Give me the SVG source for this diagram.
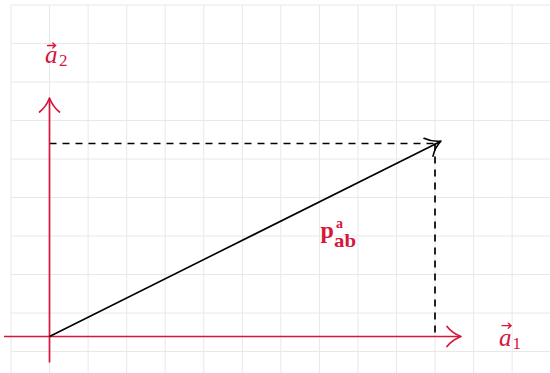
<svg xmlns="http://www.w3.org/2000/svg" width="550" height="373" viewBox="0 0 550 373">
<style>
.grid{stroke:#e8e8e8;stroke-width:1;fill:none}
.axis{stroke:#d6163d;stroke-width:1.7;fill:none}
.head{stroke-linecap:round;stroke-linejoin:round;fill:none}
.vec{stroke:#000;stroke-width:1.6;fill:none}
.dash{stroke:#000;stroke-width:1.7;stroke-dasharray:7 6;fill:none}
.lbl{fill:#d6163d;font-family:"Liberation Serif","DejaVu Serif",serif}
.acc{stroke:#d6163d;stroke-width:1.3;fill:none;stroke-linecap:round}
</style>
<rect width="550" height="373" fill="#fff"/>
<g id="grid" class="grid">
<path d="M11 5V373M49.55 5V373M88.1 5V373M126.65 5V373M165.2 5V373M203.75 5V373M242.3 5V373M280.85 5V373M319.4 5V373M357.95 5V373M396.5 5V373M435.05 5V373M473.6 5V373M512.15 5V373"/>
<path d="M11 5H550M11 43.5H550M11 82H550M11 120.5H550M11 159H550M11 197.5H550M11 236H550M11 274.5H550M11 313H550M11 351.5H550"/>
</g>
<g id="connectors">
<path class="dash" d="M49.5 143.5H435"/>
<path class="dash" d="M435 143.5V336.5"/>
<g id="axis-a1">
<path class="axis" d="M4 336.5H460"/>
<path class="axis head" d="M447 326.5Q452 333 461 336.5Q452 340 447 346.5"/>
</g>
<g id="axis-a2">
<path class="axis" d="M49.5 362.5V99"/>
<path class="axis head" d="M39.5 112Q46 107 49.5 98Q53 107 59.5 112"/>
</g>
<g id="vector-p">
<path class="vec" d="M49.5 336.5L440 141.7"/>
<path class="vec head" d="M424 138.3Q431.4 141.9 441 141Q434.5 148.2 433 156.2"/>
</g>
</g>
<g id="label-a2">
<text class="lbl" x="45" y="63.3" font-size="25" font-style="italic">a</text>
<text class="lbl" x="59" y="66" font-size="17">2</text>
<path class="acc" d="M47.5 45.5H55.5M52.8 43L55.6 45.5L52.8 48"/>
</g>
<g id="label-a1">
<text class="lbl" x="499" y="345.7" font-size="25" font-style="italic">a</text>
<text class="lbl" x="512.5" y="348.7" font-size="17">1</text>
<path class="acc" d="M502 325.7H511M508.3 323.2L511.1 325.7L508.3 328.2"/>
</g>
<g id="label-p">
<text class="lbl" x="320.5" y="238.3" font-size="24" font-weight="bold">p</text>
<text class="lbl" x="336" y="227.7" font-size="14" font-weight="bold">a</text>
<text class="lbl" x="334" y="247.3" font-size="19" font-weight="bold" textLength="22" lengthAdjust="spacingAndGlyphs">ab</text>
</g>
</svg>
